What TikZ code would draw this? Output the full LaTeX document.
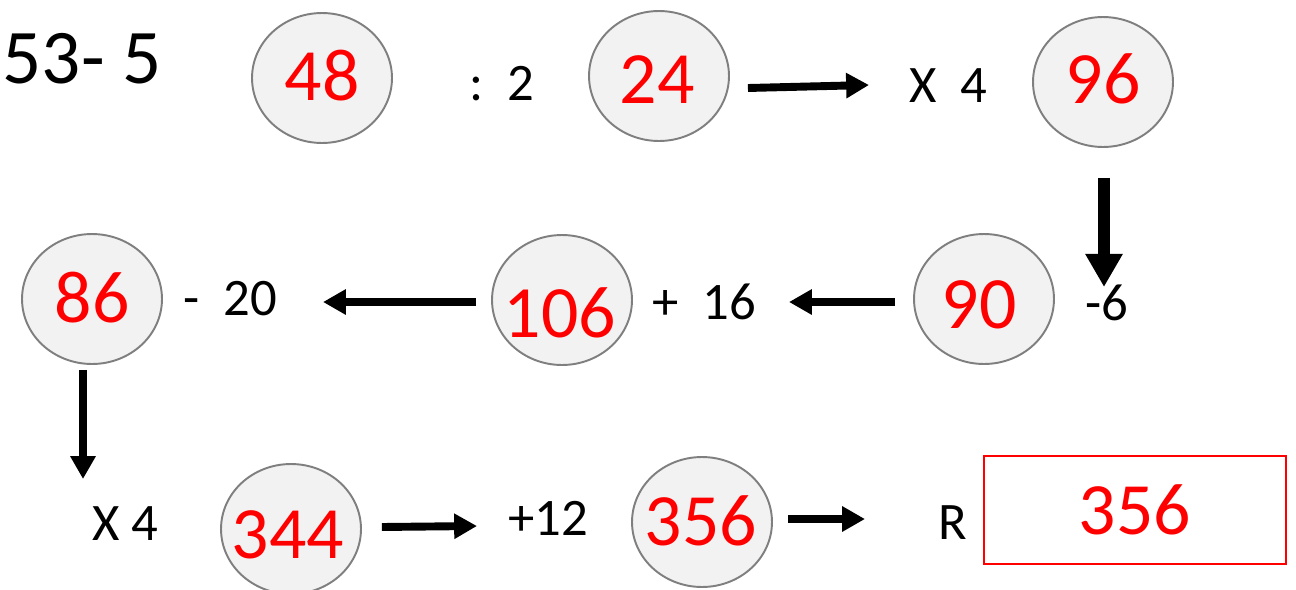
\documentclass[tikz,border=0pt]{standalone}
\usepackage{fontspec}
\setmainfont{Carlito}
\usetikzlibrary{arrows.meta, shapes.geometric}
\definecolor{ringgray}{HTML}{7F7F7F}
\definecolor{ballfill}{HTML}{F2F2F2}
\definecolor{numred}{HTML}{FF0000}

\begin{document}
\begin{tikzpicture}[x=0.02cm, y=-0.02cm,
  ball/.style={ellipse, draw=ringgray, line width=1.1pt, fill=ballfill,
    minimum width=2.8cm, minimum height=2.6cm, inner sep=0pt},
  num/.style={anchor=base, inner sep=0pt, text=numred,
    font=\fontsize{42}{48}\selectfont},
  op/.style={anchor=base, inner sep=0pt, font=\fontsize{30}{36}\selectfont},
  arr/.style={line width=4.5pt, -{Triangle[length=13pt, width=13.7pt]}},
  bigarr/.style={line width=6.8pt, -{Triangle[length=18.8pt, width=20pt]}}]
  \useasboundingbox (0,0) rectangle (1296,589);
  \node[anchor=base, inner sep=0pt, font=\fontsize{44}{52}\selectfont]
    (title) at (82,83) {53- 5};

  \node[ball] (b48) at (322,78) {};
  \node[ball] (b24) at (659,76) {};
  \node[ball] (b96) at (1103,82) {};
  \node[ball] (b90) at (984,299) {};
  \node[ball] (b106) at (562,300) {};
  \node[ball] (b86) at (92,299) {};
  \node[ball] (b344) at (291,529) {};
  \node[ball] (b356) at (702,522) {};

  \node[num] (n48) at (322,100) {48};
  \node[num] (n24) at (657,103) {24};
  \node[num] (n96) at (1103,103) {96};
  \node[num] (n90) at (979,328) {90};
  \node[num] (n106) at (560,337) {106};
  \node[num] (n86) at (92,322) {86};
  \node[num] (n344) at (288,558) {344};
  \node[num] (n356) at (701,545) {356};

  \node[op] (div2) at (502,100) {:~~2};
  \node[op] (mul4a) at (948.5,102) {X~~4};
  \node[op] (sub6) at (1107,320) {-6};
  \node[op] (add16) at (704,319) {+~~16};
  \node[op] (sub20) at (230.5,315) {-~~20};
  \node[op] (mul4b) at (125,540) {X 4};
  \node[op] (add12) at (548.5,535) {+12};
  \node[op] (rlab) at (952.5,539) {R};

  \node[draw=numred, line width=1pt, minimum width=6.04cm, minimum height=2.16cm,
    inner sep=0pt, text=numred, font=\fontsize{42}{48}\selectfont]
    (res) at (1135,510) {356};

  \draw[arr] ([shift={(18,12)}]b24.east) -- ([shift={(-79.5,-17)}]mul4a.base);
  \draw[bigarr] ([shift={(1,30)}]b96.south) -- ([shift={(-3,-33)}]sub6.base);
  \draw[arr] ([shift={(-18,3)}]b90.west) -- ([shift={(85,-17)}]add16.base);
  \draw[arr] ([shift={(-15,2)}]b106.west) -- ([shift={(92.5,-13)}]sub20.base);
  \draw[arr] ([shift={(-9,5)}]b86.south) -- ([shift={(-42,-61)}]mul4b.base);
  \draw[arr] ([shift={(20,-2)}]b344.east) -- ([shift={(-71.5,-9)}]add12.base);
  \draw[arr] ([shift={(15,-3)}]b356.east) -- ([shift={(-87.5,-20)}]rlab.base);
\end{tikzpicture}
\end{document}
